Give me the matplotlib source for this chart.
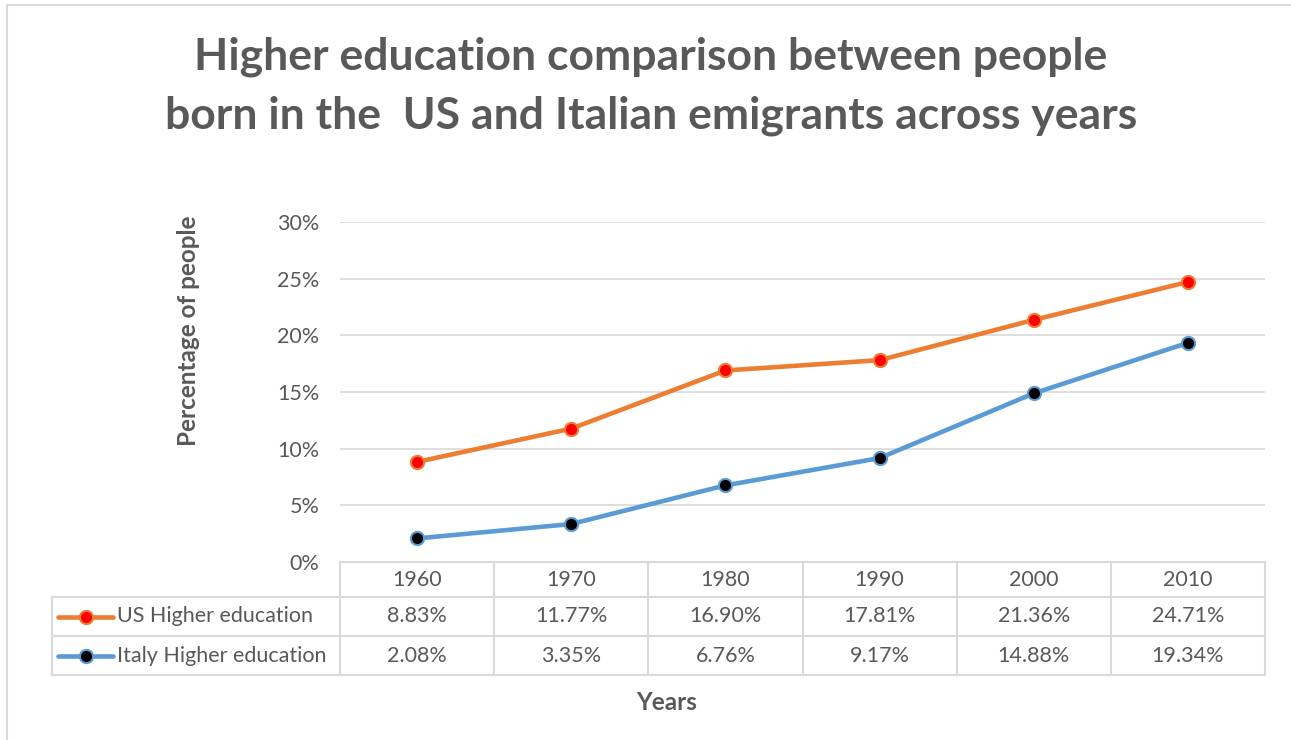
import matplotlib.pyplot as plt
from matplotlib.patches import Rectangle
from matplotlib.ticker import FuncFormatter

# Share of people with higher education, by census year
years = ["1960", "1970", "1980", "1990", "2000", "2010"]
us_higher_ed = [8.83, 11.77, 16.90, 17.81, 21.36, 24.71]
italy_higher_ed = [2.08, 3.35, 6.76, 9.17, 14.88, 19.34]
series_names = ["US Higher education", "Italy Higher education"]

TEXT = "#595959"
GRID = "#D9D9D9"
ORANGE = "#ED7D31"
BLUE = "#5B9BD5"
FONT = "Lato"
FS = 15.5

W, H = 1291, 740
fig = plt.figure(figsize=(W / 100, H / 100), dpi=100)

# outer chart frame
fig.patches.append(Rectangle((7 / W, -0.1), 1.2, (H - 5) / H + 0.1,
                             transform=fig.transFigure, fill=False,
                             edgecolor=GRID, lw=1.5))

# plot area in pixels: x 340..1265, y 222..562
ax = fig.add_axes([340 / W, (H - 562) / H, 925 / W, 340 / H])
x = range(len(years))
ax.plot(x, us_higher_ed, color=ORANGE, lw=3.3, marker="o", ms=9.5,
        mfc="red", mec=ORANGE, mew=1.5, zorder=3)
ax.plot(x, italy_higher_ed, color=BLUE, lw=3.3, marker="o", ms=9.5,
        mfc="black", mec=BLUE, mew=1.5, zorder=3)

ax.set_xlim(-0.5, len(years) - 0.5)
ax.set_ylim(0, 30)
ax.set_yticks(range(0, 31, 5))
ax.yaxis.set_major_formatter(FuncFormatter(lambda v, p: f"{v:.0f}%"))
ax.set_xticks([])
ax.tick_params(axis="y", length=0, pad=15, labelsize=FS, labelcolor=TEXT)
for lab in ax.get_yticklabels():
    lab.set_fontfamily(FONT)
ax.grid(axis="y", color=GRID, lw=1.2)
ax.set_axisbelow(True)
for s in ax.spines.values():
    s.set_visible(False)

# data table under the plot
tr = ax.transAxes
left = (52 - 340) / 925
y_hdr, y_us, y_it = -35 / 340, -74 / 340, -113 / 340
line_kw = dict(transform=tr, color=GRID, lw=1.5, clip_on=False)
ax.plot([0, 1], [0, 0], **line_kw)
ax.plot([left, 1], [y_hdr, y_hdr], **line_kw)
ax.plot([left, 1], [y_us, y_us], **line_kw)
ax.plot([left, 1], [y_it, y_it], **line_kw)
ax.plot([left, left], [y_hdr, y_it], **line_kw)
for i in range(len(years) + 1):
    ax.plot([i / len(years)] * 2, [0, y_it], **line_kw)

txt_kw = dict(transform=tr, ha="center", va="center", fontsize=FS,
              color=TEXT, family=FONT)
for i, yr in enumerate(years):
    cx = (i + 0.5) / len(years)
    ax.text(cx, y_hdr / 2, yr, **txt_kw)
    ax.text(cx, (y_hdr + y_us) / 2, f"{us_higher_ed[i]:.2f}%", **txt_kw)
    ax.text(cx, (y_us + y_it) / 2, f"{italy_higher_ed[i]:.2f}%", **txt_kw)

# legend keys inside the table
for name, yv, col, face in [(series_names[0], (y_hdr + y_us) / 2, ORANGE, "red"),
                            (series_names[1], (y_us + y_it) / 2, BLUE, "black")]:
    kx0, kx1 = (58 - 340) / 925, (113 - 340) / 925
    ax.plot([kx0, kx1], [yv, yv], transform=tr, color=col, lw=3.3,
            clip_on=False, solid_capstyle="round")
    ax.plot([(kx0 + kx1) / 2], [yv], transform=tr, marker="o", ms=9.5,
            mfc=face, mec=col, mew=1.5, clip_on=False)
    ax.text((117 - 340) / 925, yv, name, transform=tr, ha="left", va="center",
            fontsize=FS, color=TEXT, family=FONT)

fig.text(651 / W, 1 - 86 / H,
         "Higher education comparison between people\nborn in the  US and Italian emigrants across years",
         ha="center", va="center", fontsize=32, fontweight="bold",
         color=TEXT, family=FONT, linespacing=1.55)
fig.text(188 / W, 1 - 331 / H, "Percentage of people", rotation=90,
         ha="center", va="center", fontsize=17.5, fontweight="bold",
         color=TEXT, family=FONT)
fig.text(667 / W, 1 - 702 / H, "Years", ha="center", va="center",
         fontsize=17.5, fontweight="bold", color=TEXT, family=FONT)

fig.savefig("out.png", dpi=100)
